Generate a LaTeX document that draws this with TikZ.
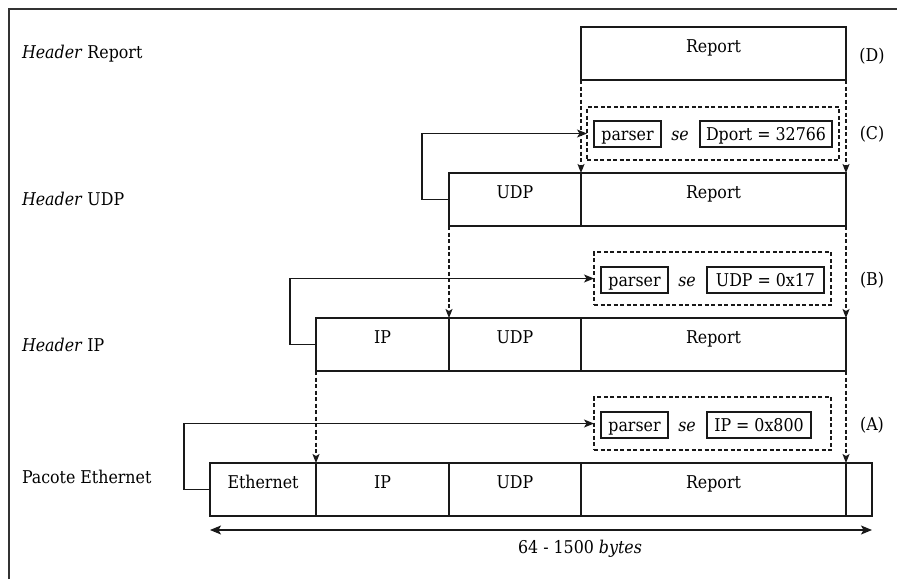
\documentclass[tikz,border=0pt]{standalone}
\usepackage{fontspec}
\setmainfont{DejaVu Serif Condensed}
\usetikzlibrary{arrows.meta}
\begin{document}
\begin{tikzpicture}[x=1pt,y=-1pt,
  line width=1.1pt, draw=black!90,
  every node/.style={inner sep=0pt, outer sep=0pt, font=\fontsize{17.6}{20}\selectfont},
  field/.style={draw, anchor=north west, minimum height=53pt, text height=25pt, text depth=28pt},
  rowlabel/.style={anchor=west},
  tag/.style={anchor=center},
  condbox/.style={draw, dash pattern=on 4pt off 2.5pt, anchor=north west, minimum height=53pt},
  smallbox/.style={draw, anchor=center, minimum height=26pt, text height=15pt, text depth=2pt},
  seword/.style={anchor=center, text height=15pt, text depth=2pt, font=\itshape\fontsize{17.6}{20}\selectfont},
  dasharrow/.style={dash pattern=on 4pt off 2.5pt, -{Stealth[length=9pt,width=7pt,inset=2pt]}},
  looparrow/.style={-{Stealth[length=10pt,width=8pt,inset=2.5pt]}},
  bothtips/.style={{Stealth[length=11pt,width=9pt,inset=2.5pt]}-{Stealth[length=11pt,width=9pt,inset=2.5pt]}},
  framebar/.style={line width=2pt, draw=black!80},
]
\useasboundingbox (0,0) rectangle (897,579);
% outer frame (left and top edges)
\draw[framebar] (9,579) -- (9,9) -- (897,9);

% row labels
\node[rowlabel] (lblD) at (22,54)  {\textit{Header} Report};
\node[rowlabel] (lblC) at (22,199) {\textit{Header} UDP};
\node[rowlabel] (lblB) at (22,345) {\textit{Header} IP};
\node[rowlabel] (lblA) at (22,477) {Pacote Ethernet};

% (D) report only
\node[field, minimum width=265pt] (dRep) at (581,27) {Report};
\node[tag] (tD) at (872,56) {(D)};

% (C) UDP header
\node[field, minimum width=132pt] (cUdp) at (449,173) {UDP};
\node[field, minimum width=265pt] (cRep) at (581,173) {Report};
\node[condbox, minimum width=252pt] (condC) at (587,107) {};
\node[smallbox, minimum width=67pt]  (cPar) at (627.5,134) {parser};
\node[seword] (cSe) at (680,134) {se};
\node[smallbox, minimum width=132pt] (cVal) at (766,134) {Dport = 32766};
\node[tag] (tC) at (872,134) {(C)};

% (B) IP header
\node[field, minimum width=133pt] (bIp)  at (316,318) {IP};
\node[field, minimum width=132pt] (bUdp) at (449,318) {UDP};
\node[field, minimum width=265pt] (bRep) at (581,318) {Report};
\node[condbox, minimum width=237pt] (condB) at (594,252) {};
\node[smallbox, minimum width=67pt]  (bPar) at (634.5,280) {parser};
\node[seword] (bSe) at (687,280) {se};
\node[smallbox, minimum width=117pt] (bVal) at (765.5,280) {UDP = 0x17};
\node[tag] (tB) at (872,280) {(B)};

% (A) Ethernet frame
\node[field, minimum width=106pt] (aEth) at (210,463) {Ethernet};
\node[field, minimum width=133pt] (aIp)  at (316,463) {IP};
\node[field, minimum width=132pt] (aUdp) at (449,463) {UDP};
\node[field, minimum width=265pt] (aRep) at (581,463) {Report};
\node[field, minimum width=26pt]  (aPad) at (846,463) {};
\node[condbox, minimum width=237pt] (condA) at (594,397) {};
\node[smallbox, minimum width=67pt]  (aPar) at (634.5,425) {parser};
\node[seword] (aSe) at (687,425) {se};
\node[smallbox, minimum width=104pt] (aVal) at (759,425) {IP = 0x800};
\node[tag] (tA) at (872,425) {(A)};

% payload extraction (dashed)
\draw[dasharrow] (dRep.south west) -- (cRep.north west);
\draw[dasharrow] (dRep.south east) -- (cRep.north east);
\draw[dasharrow] (cUdp.south west) -- (bUdp.north west);
\draw[dasharrow] (cRep.south east) -- (bRep.north east);
\draw[dasharrow] (bIp.south west)  -- (aIp.north west);
\draw[dasharrow] (bRep.south east) -- (aRep.north east);

% header to parser condition
\draw[looparrow] (cUdp.west) -- ++(-27,0) |- (condC.west);
\draw[looparrow] (bIp.west)  -- ++(-26,0) |- (condB.west);
\draw[looparrow] (aEth.west) -- ++(-26,0) |- (condA.west);

% frame size
\coordinate (sizeL) at (210,530);
\coordinate (sizeR) at (872,530);
\draw[bothtips] (sizeL) -- (sizeR);
\node[tag] (size) at (580,549) {64 - 1500 \textit{bytes}};
\end{tikzpicture}
\end{document}
